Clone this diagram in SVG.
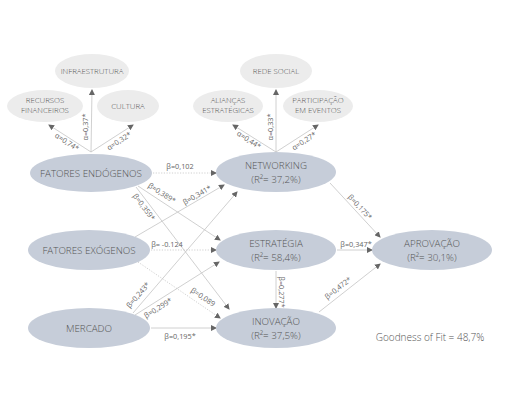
<svg xmlns="http://www.w3.org/2000/svg" width="508" height="400" viewBox="0 0 508 400">
<defs>
<marker id="ah" markerWidth="6" markerHeight="6" refX="5" refY="3" orient="auto" markerUnits="userSpaceOnUse">
<path d="M0,0 L6,3 L0,6 Z" fill="#666"/>
</marker>
<style>
.main{fill:#c6cdd9}
.sub{fill:#ececec}
.t{font-family:"Open Sans","Liberation Sans",sans-serif;fill:#555;text-anchor:middle;font-weight:300}
.tm{font-size:9.8px}
.ts{font-size:7.8px}
.tl{font-family:"Open Sans","Liberation Sans",sans-serif;fill:#666;text-anchor:middle;font-size:7.3px;font-weight:400}
.ln{stroke:#c4c4c4;stroke-width:0.8;fill:none;marker-end:url(#ah)}
.dt{stroke:#c4c4c4;stroke-width:0.8;fill:none;stroke-dasharray:1.2 1.5;marker-end:url(#ah)}
</style>
</defs>
<rect width="508" height="400" fill="#fff"/>

<g id="connectors">
<line class="ln" x1="91" y1="152" x2="92" y2="90"/>
<line class="ln" x1="91" y1="152" x2="49" y2="125"/>
<line class="ln" x1="91" y1="152" x2="133" y2="125"/>
<line class="ln" x1="276" y1="152" x2="276" y2="90"/>
<line class="ln" x1="276" y1="152" x2="233" y2="125"/>
<line class="ln" x1="276" y1="152" x2="318" y2="125"/>

<line class="dt" x1="153" y1="173" x2="216" y2="173"/>
<line class="ln" x1="138" y1="186" x2="220" y2="240"/>
<line class="ln" x1="136" y1="187" x2="229" y2="309"/>
<line class="ln" x1="135" y1="237" x2="224" y2="185"/>
<line class="dt" x1="151" y1="250" x2="216" y2="250"/>
<line class="dt" x1="138" y1="262" x2="220" y2="318"/>
<line class="ln" x1="133" y1="313" x2="237" y2="192"/>
<line class="ln" x1="135" y1="315" x2="219" y2="262"/>
<line class="ln" x1="151" y1="328" x2="216" y2="328"/>

<line class="ln" x1="330" y1="183" x2="380" y2="237"/>
<line class="ln" x1="337" y1="250" x2="372" y2="250"/>
<line class="ln" x1="319" y1="312" x2="380" y2="264"/>
<line class="ln" x1="276" y1="271" x2="276" y2="308"/>

<text class="tl" y="2.6" transform="translate(67,142) rotate(33)">α=0,74*</text>
<text class="tl" y="2.6" transform="translate(85,127) rotate(-90)">α=0,37*</text>
<text class="tl" y="2.6" transform="translate(119,141) rotate(-33)">α=0,32*</text>
<text class="tl" y="2.6" transform="translate(249,140) rotate(33)">α=0,44*</text>
<text class="tl" y="2.6" transform="translate(270,127) rotate(-90)">α=0,33*</text>
<text class="tl" y="2.6" transform="translate(304,141) rotate(-33)">α=0,27*</text>

<text class="tl" x="180" y="169">β=0,102</text>
<text class="tl" y="2.6" transform="translate(162,193) rotate(33)">β=0,389*</text>
<text class="tl" y="2.6" transform="translate(144,207) rotate(53)">β=0,359*</text>
<text class="tl" y="2.6" transform="translate(197,195) rotate(-30)">β=0,341*</text>
<text class="tl" x="167" y="247">β= -0.124</text>
<text class="tl" y="2.6" transform="translate(203,297) rotate(34)">β=0,089</text>
<text class="tl" y="2.6" transform="translate(138,295) rotate(-49)">β=0,243*</text>
<text class="tl" y="2.6" transform="translate(158,308) rotate(-32)">β=0,299*</text>
<text class="tl" x="180" y="339">β=0,195*</text>
<text class="tl" y="2.6" transform="translate(360,207) rotate(47)">β=0,175*</text>
<text class="tl" x="356" y="247">β=0,347*</text>
<text class="tl" y="2.6" transform="translate(338,288) rotate(-38)">β=0,472*</text>
<text class="tl" y="2.6" transform="translate(282,292) rotate(90)">β=0,277*</text>
</g>

<g id="n-infra"><ellipse class="sub" cx="92" cy="71" rx="37" ry="17"/><text class="t ts" x="92" y="74">INFRAESTRUTURA</text></g>
<g id="n-recursos"><ellipse class="sub" cx="45" cy="106" rx="38" ry="16"/><text class="t ts" x="45" y="103">RECURSOS</text><text class="t ts" x="45" y="113">FINANCEIROS</text></g>
<g id="n-cultura"><ellipse class="sub" cx="128" cy="106" rx="31" ry="16"/><text class="t ts" x="128" y="109">CULTURA</text></g>
<g id="n-rede"><ellipse class="sub" cx="276" cy="71" rx="36" ry="17"/><text class="t ts" x="276" y="74">REDE SOCIAL</text></g>
<g id="n-aliancas"><ellipse class="sub" cx="228" cy="106" rx="35" ry="16"/><text class="t ts" x="228" y="103">ALIANÇAS</text><text class="t ts" x="228" y="113">ESTRATÉGICAS</text></g>
<g id="n-particip"><ellipse class="sub" cx="318" cy="106" rx="35" ry="16"/><text class="t ts" x="318" y="103">PARTICIPAÇÃO</text><text class="t ts" x="318" y="113">EM EVENTOS</text></g>

<g id="n-endogenos"><ellipse class="main" cx="91" cy="173" rx="61" ry="19"/><text class="t tm" x="91" y="176.5">FATORES ENDÓGENOS</text></g>
<g id="n-exogenos"><ellipse class="main" cx="89" cy="250" rx="61" ry="20"/><text class="t tm" x="89" y="254">FATORES EXÓGENOS</text></g>
<g id="n-mercado"><ellipse class="main" cx="89" cy="328" rx="61" ry="20"/><text class="t tm" x="89" y="332">MERCADO</text></g>
<g id="n-networking"><ellipse class="main" cx="276" cy="172" rx="60" ry="20"/><text class="t tm" x="276" y="169">NETWORKING</text><text class="t tm" x="276" y="183">(R²= 37,2%)</text></g>
<g id="n-estrategia"><ellipse class="main" cx="276" cy="250" rx="60" ry="20"/><text class="t tm" x="276" y="247">ESTRATÉGIA</text><text class="t tm" x="276" y="261">(R²= 58,4%)</text></g>
<g id="n-inovacao"><ellipse class="main" cx="276" cy="328" rx="60" ry="20"/><text class="t tm" x="276" y="325">INOVAÇÃO</text><text class="t tm" x="276" y="339">(R²= 37,5%)</text></g>
<g id="n-aprovacao"><ellipse class="main" cx="432" cy="250" rx="60" ry="20"/><text class="t tm" x="432" y="247">APROVAÇÃO</text><text class="t tm" x="432" y="261">(R²= 30,1%)</text></g>

<text class="t" x="430" y="341" font-size="10" fill="#777">Goodness of Fit = 48,7%</text>
</svg>
